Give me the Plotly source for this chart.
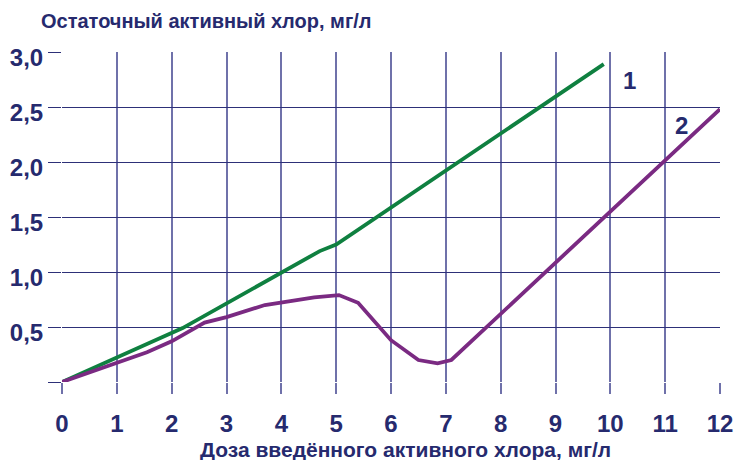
import plotly.graph_objects as go

# Chlorine dose (x) vs residual active chlorine (y)
dose_1 = [0, 2.2, 4.7, 5.0, 9.88]
resid_1 = [0, 0.49, 1.19, 1.25, 2.89]

dose_2 = [0, 1.0, 1.55, 2.0, 2.6, 3.0, 3.7, 4.6, 5.05, 5.4, 6.0, 6.5, 6.85, 7.1, 12.0]
resid_2 = [0, 0.17, 0.27, 0.37, 0.54, 0.59, 0.70, 0.77, 0.79, 0.72, 0.38, 0.20, 0.17, 0.20, 2.48]

x_ticks = list(range(0, 13))
y_ticks = [0, 0.5, 1.0, 1.5, 2.0, 2.5, 3.0]
y_tick_text = ["", "0,5", "1,0", "1,5", "2,0", "2,5", "3,0"]

curve_labels = [("1", 10.35, 2.74), ("2", 11.3, 2.33)]

NAVY = "#262a6e"
GREEN = "#0f8040"
PURPLE = "#7a2a82"
FONT = "Liberation Sans, Arial, sans-serif"

fig = go.Figure()
fig.add_trace(go.Scatter(x=dose_1, y=resid_1, mode="lines",
                         line=dict(color=GREEN, width=3.8), cliponaxis=False))
fig.add_trace(go.Scatter(x=dose_2, y=resid_2, mode="lines",
                         line=dict(color=PURPLE, width=3.8), cliponaxis=False))

for txt, xv, yv in curve_labels:
    fig.add_annotation(x=xv, y=yv, text=txt, showarrow=False,
                       font=dict(family=FONT, size=24, color=NAVY, weight="bold"))

fig.add_annotation(xref="paper", yref="paper", x=-0.035, y=1.0, yshift=31,
                   xanchor="left", yanchor="middle", showarrow=False,
                   text="Остаточный активный хлор, мг/л",
                   font=dict(family=FONT, size=20, color=NAVY, weight="bold"))
fig.add_annotation(xref="paper", yref="paper", x=0.522, y=0, yshift=-67,
                   xanchor="center", yanchor="middle", showarrow=False,
                   text="Доза введённого активного хлора, мг/л",
                   font=dict(family=FONT, size=21, color=NAVY, weight="bold"))

fig.update_layout(
    width=741, height=460,
    margin=dict(l=62, r=21, t=52, b=78),
    paper_bgcolor="white", plot_bgcolor="white",
    showlegend=False,
    xaxis=dict(range=[0, 12], tickvals=x_ticks, showgrid=True, automargin=False,
               gridcolor="#6f71aa", gridwidth=1.6, zeroline=False, showline=False,
               ticks="outside", ticklen=11, tickwidth=1.6, tickcolor="#6f71aa",
               ticklabelstandoff=9,
               tickfont=dict(family=FONT, size=24, color=NAVY, weight="bold")),
    yaxis=dict(range=[0, 3], tickvals=y_ticks, ticktext=y_tick_text, showgrid=True,
               automargin=False,
               gridcolor="#2d3078", gridwidth=1.1, zeroline=False, showline=False,
               ticks="outside", ticklen=13, tickwidth=1.1, tickcolor="#2d3078",
               ticklabelshift=6, ticklabelstandoff=0,
               tickfont=dict(family=FONT, size=24, color=NAVY, weight="bold")),
)

fig.write_html("out.html")
